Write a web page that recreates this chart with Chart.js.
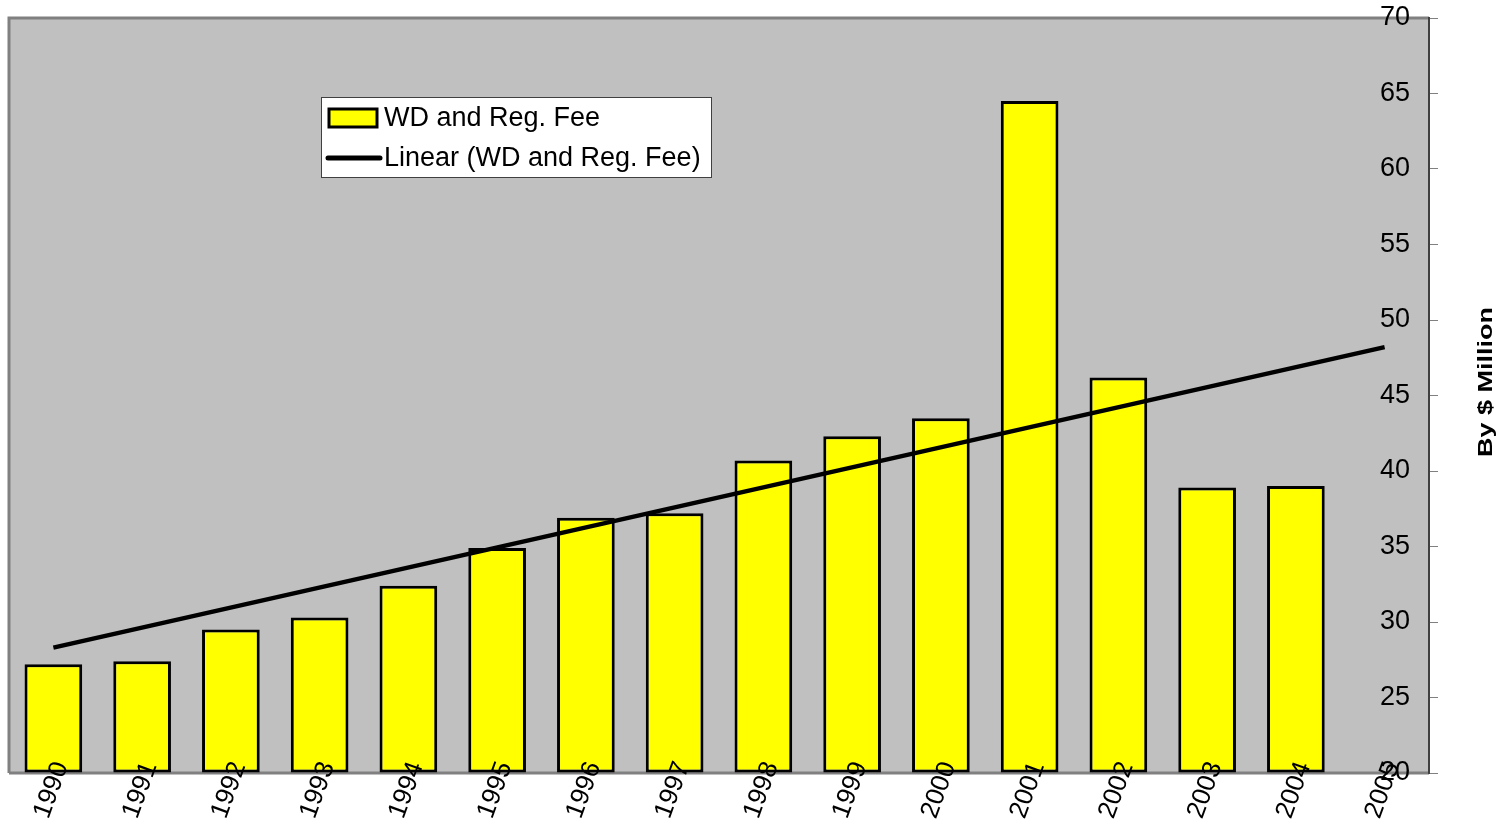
<!DOCTYPE html>
<html>
<head>
<meta charset="utf-8">
<script src="https://cdn.jsdelivr.net/npm/chart.js@4.4.0/dist/chart.umd.min.js"></script>
<style>
  html, body { margin: 0; padding: 0; background: #fff; }
  #wrap { width: 1503px; height: 825px; position: relative; }
</style>
</head>
<body>
<div id="wrap"><canvas id="canvas"></canvas></div>
<script>
// data
const years = ['1990', '1991', '1992', '1993', '1994', '1995', '1996', '1997',
    '1998', '1999', '2000', '2001', '2002', '2003', '2004', '2005'];
const fees = [27.2, 27.4, 29.5, 30.3, 32.4, 34.9, 36.9, 37.2,
    40.7, 42.3, 43.5, 64.5, 46.2, 38.9, 39.0, null];
// linear trend line, start (1990) and end (2005)
const trendYears = ['1990', '2005'];
const trendValues = [28.3, 48.2];
const yMin = 20, yMax = 70, yStep = 5;

const barLabel = 'WD and Reg. Fee';
const trendLabel = 'Linear (WD and Reg. Fee)';
const axisTitle = 'By $ Million';

const FONT = 'Liberation Sans, Arial, sans-serif';

// gray plot area with border, legend, year labels and axis title
const plotBg = {
    id: 'plotBg',
    beforeDraw(chart) {
        const { ctx, chartArea: a } = chart;
        ctx.save();
        ctx.fillStyle = '#c0c0c0';
        ctx.fillRect(a.left, a.top, a.right - a.left, a.bottom - a.top);
        ctx.strokeStyle = '#808080';
        ctx.lineWidth = 3;
        ctx.beginPath();
        ctx.moveTo(a.left, a.bottom);
        ctx.lineTo(a.left, a.top);
        ctx.lineTo(a.right, a.top);
        ctx.stroke();
        ctx.beginPath();
        ctx.moveTo(a.left, a.bottom);
        ctx.lineTo(a.right, a.bottom);
        ctx.stroke();
        ctx.restore();
    },
    afterDraw(chart) {
        const { ctx, chartArea: a } = chart;
        const xs = chart.scales.x;
        ctx.save();
        // year labels, overlapping the bottom of the bars like the original
        ctx.fillStyle = '#000';
        ctx.font = '26px ' + FONT;
        ctx.textAlign = 'right';
        ctx.textBaseline = 'middle';
        xs.ticks.forEach((t, i) => {
            ctx.save();
            ctx.translate(xs.getPixelForTick(i) + 8, a.bottom - 10);
            ctx.rotate(-70 * Math.PI / 180);
            ctx.fillText(xs.getLabelForValue(t.value), 0, 0);
            ctx.restore();
        });
        // legend box
        ctx.textAlign = 'left';
        ctx.fillStyle = '#fff';
        ctx.fillRect(321, 97, 390, 80);
        ctx.strokeStyle = '#404040';
        ctx.lineWidth = 1;
        ctx.strokeRect(321.5, 97.5, 390, 80);
        ctx.fillStyle = '#ffff00';
        ctx.fillRect(329, 109, 48, 18);
        ctx.strokeStyle = '#000';
        ctx.lineWidth = 3;
        ctx.strokeRect(329, 109, 48, 18);
        ctx.lineWidth = 5;
        ctx.lineCap = 'round';
        ctx.beginPath();
        ctx.moveTo(328, 158);
        ctx.lineTo(380, 158);
        ctx.stroke();
        ctx.fillStyle = '#000';
        ctx.font = '27px ' + FONT;
        ctx.fillText(barLabel, 384, 119);
        ctx.fillText(trendLabel, 384, 159);
        // axis title, reads bottom to top, narrow letters
        ctx.translate(1487, 382);
        ctx.rotate(-Math.PI / 2);
        ctx.scale(1, 0.72);
        ctx.font = 'bold 27px ' + FONT;
        ctx.textAlign = 'center';
        ctx.fillText(axisTitle, 0, 0);
        ctx.restore();
    }
};

const config = {
    type: 'bar',
    data: {
        labels: years,
        datasets: [{
            type: 'line',
            label: trendLabel,
            data: trendYears.map((y, i) => ({ x: y, y: trendValues[i] })),
            borderColor: '#000',
            borderWidth: 4.5,
            pointRadius: 0,
            fill: false,
            order: 0
        }, {
            label: barLabel,
            data: fees,
            backgroundColor: '#ffff00',
            borderColor: '#000',
            borderWidth: 3,
            borderSkipped: false,
            base: yMin,
            categoryPercentage: 1,
            barPercentage: 0.65,
            order: 1
        }]
    },
    plugins: [plotBg],
    options: {
        responsive: true,
        maintainAspectRatio: false,
        animation: false,
        layout: { padding: { left: 9, top: 18 } },
        plugins: {
            legend: { display: false },
            tooltip: { enabled: false }
        },
        scales: {
            x: {
                grid: { display: false },
                border: { display: false },
                ticks: { display: false, autoSkip: false },
                afterFit(scale) {
                    scale.height = 52;
                    scale.paddingLeft = 0;
                    scale.paddingRight = 0;
                }
            },
            y: {
                position: 'right',
                min: yMin,
                max: yMax,
                grid: {
                    drawOnChartArea: false,
                    drawTicks: true,
                    tickLength: 9,
                    color: '#808080'
                },
                border: { display: true, color: '#404040', width: 2 },
                ticks: {
                    stepSize: yStep,
                    mirror: true,
                    padding: -19,
                    color: '#000',
                    font: { family: FONT, size: 27 }
                },
                afterFit(scale) {
                    scale.width = 74;
                    scale.paddingTop = 0;
                    scale.paddingBottom = 0;
                }
            }
        }
    }
};

const canvas = document.getElementById('canvas');
const chart = new Chart(canvas, config);
</script>
</body>
</html>
